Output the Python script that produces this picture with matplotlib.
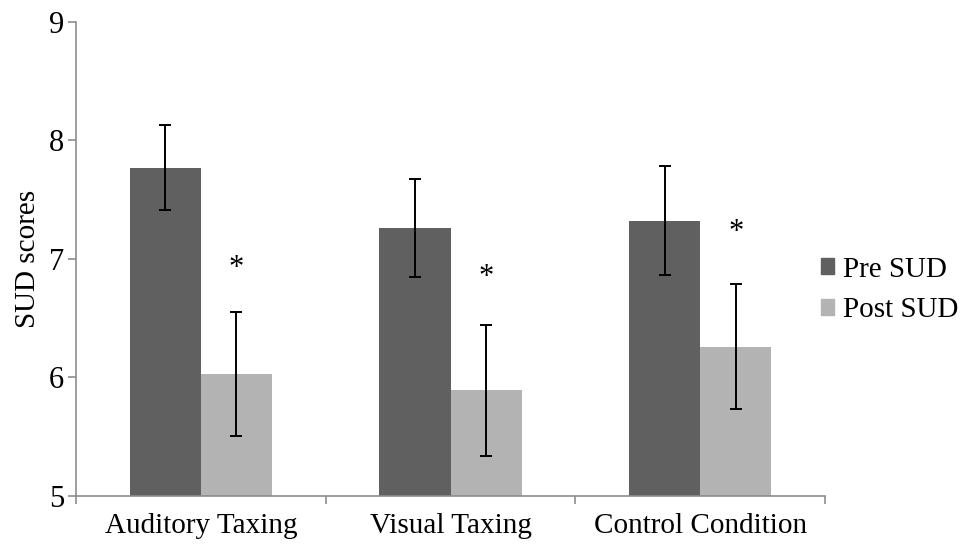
import numpy as np
import matplotlib
matplotlib.use("Agg")
import matplotlib.pyplot as plt
from matplotlib.patches import Patch

conditions = ["Auditory Taxing", "Visual Taxing", "Control Condition"]
pre_sud = [7.77, 7.26, 7.32]
pre_err = [0.36, 0.41, 0.46]
post_sud = [6.03, 5.89, 6.26]
post_err = [0.52, 0.55, 0.53]
star_y = [6.92, 6.84, 7.22]

pre_color = "#606060"
post_color = "#b3b3b3"
axis_color = "#8c8c8c"

plt.rcParams["font.family"] = ["Liberation Serif", "DejaVu Serif"]

fig = plt.figure(figsize=(9.69, 5.54), dpi=100)
ax = fig.add_axes([76 / 969, 1 - 496 / 554, 749 / 969, (496 - 21.7) / 554])

x = np.arange(len(conditions))
w = 0.285

ax.bar(x - w / 2, pre_sud, w, color=pre_color, label="Pre SUD", zorder=2)
ax.bar(x + w / 2, post_sud, w, color=post_color, label="Post SUD", zorder=2)
ax.errorbar(x - w / 2, pre_sud, yerr=pre_err, fmt="none", ecolor="black",
            elinewidth=1.4, capsize=4.6, capthick=1.4, zorder=3)
ax.errorbar(x + w / 2, post_sud, yerr=post_err, fmt="none", ecolor="black",
            elinewidth=1.4, capsize=4.6, capthick=1.4, zorder=3)

for xi, yi in zip(x, star_y):
    ax.text(xi + w / 2, yi, "*", ha="center", va="center", fontsize=22)

ax.set_xlim(-0.5, len(conditions) - 0.5)
ax.set_ylim(5, 9)
ax.set_yticks([5, 6, 7, 8, 9])

# category boundaries as ticks, names as minor tick labels
ax.set_xticks(np.arange(len(conditions) + 1) - 0.5)
ax.set_xticklabels([])
ax.set_xticks(x, minor=True)
ax.set_xticklabels(conditions, minor=True)
ax.tick_params(axis="x", which="minor", length=0, pad=12, labelsize=21)
ax.tick_params(axis="x", which="major", length=5.5, width=1.2, color=axis_color)
ax.tick_params(axis="y", length=5.5, width=1.2, color=axis_color, pad=3,
               labelsize=22)

for side in ["top", "right"]:
    ax.spines[side].set_visible(False)
for side in ["left", "bottom"]:
    ax.spines[side].set_color(axis_color)
    ax.spines[side].set_linewidth(1.2)

ax.set_ylabel("SUD scores", fontsize=21, labelpad=6)

handles = [Patch(color=pre_color), Patch(color=post_color)]
fig.legend(handles, ["Pre SUD", "Post SUD"], loc="center left",
           bbox_to_anchor=(821 / 969, 1 - 290 / 554), frameon=False,
           fontsize=21, handlelength=0.45, handleheight=0.45,
           handletextpad=0.3, labelspacing=0.5, borderpad=0,
           borderaxespad=0)

fig.savefig("out.png", dpi=100)
